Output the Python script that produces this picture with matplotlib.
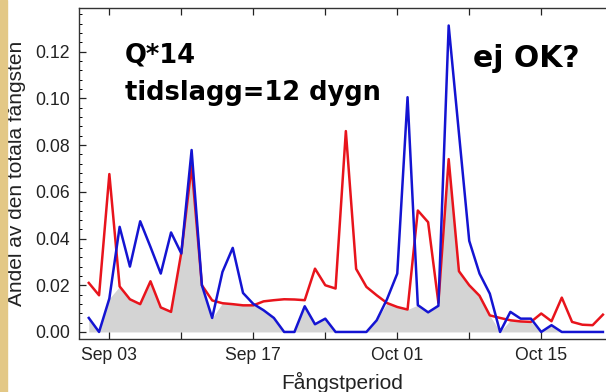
import datetime as dt
import numpy as np
import matplotlib
matplotlib.use('Agg')
import matplotlib.pyplot as plt
import matplotlib.dates as mdates
from matplotlib.ticker import MultipleLocator, FuncFormatter

# data, one value per day from Sep 01 to Oct 21
start = dt.date(2010, 9, 1)
days = [start + dt.timedelta(days=i) for i in range(51)]

red = [0.021, 0.0157, 0.0676, 0.0195, 0.014, 0.0119, 0.0217, 0.0105, 0.0086, 0.034,
       0.071, 0.020, 0.0135, 0.0123, 0.0119, 0.0114, 0.0114, 0.0131, 0.0136, 0.014,
       0.0139, 0.0136, 0.0271, 0.020, 0.0186, 0.086, 0.027, 0.0193, 0.0157, 0.0124,
       0.0107, 0.0096, 0.052, 0.047, 0.0125, 0.074, 0.026, 0.020, 0.0155, 0.0071,
       0.006, 0.005, 0.0045, 0.0043, 0.0079, 0.0046, 0.0147, 0.0043, 0.0031, 0.0029,
       0.0074]
blue = [0.006, 0.0, 0.0143, 0.045, 0.028, 0.0474, 0.0364, 0.025, 0.0426, 0.0336,
        0.0779, 0.020, 0.006, 0.0257, 0.036, 0.0167, 0.012, 0.0093, 0.006, 0.0,
        0.0, 0.011, 0.0033, 0.0057, 0.0, 0.0, 0.0, 0.0, 0.005, 0.014,
        0.025, 0.1005, 0.0115, 0.0084, 0.0112, 0.1312, 0.085, 0.039, 0.025, 0.0164,
        0.0, 0.0086, 0.0057, 0.0057, 0.0, 0.0029, 0.0, 0.0, 0.0, 0.0, 0.0]

tick_labels = ['Sep 03', '', 'Sep 17', '', 'Oct 01', '', 'Oct 15']

plt.rcParams['font.family'] = ['Liberation Sans', 'DejaVu Sans']

fig = plt.figure(figsize=(6.06, 3.92), dpi=100)
fig.patch.set_facecolor('white')
# tan strip on the left edge
fig.patches.append(plt.Rectangle((0, 0), 7 / 606, 1, transform=fig.transFigure,
                                 color='#e3c886', zorder=0))

ax = fig.add_axes([78.5 / 606, 1 - 338.5 / 392, (606 - 78.5) / 606, 330.5 / 392])

x = mdates.date2num(days)
low = np.minimum(red, blue)
ax.fill_between(x, 0, low, color='#d4d4d4', lw=0, zorder=1)
ax.plot(x, red, color='#e8141c', lw=1.8, zorder=3)
ax.plot(x, blue, color='#1414d2', lw=1.8, zorder=4)

x0 = mdates.date2num(dt.date(2010, 8, 31))
ax.set_xlim(x0, x0 + 51.3)
ax.set_ylim(-0.0028, 0.1387)

ticks = [mdates.date2num(dt.date(2010, 9, 3)) + 7 * i for i in range(7)]
ax.set_xticks(ticks)
ax.set_xticklabels(tick_labels)
ax.yaxis.set_major_locator(MultipleLocator(0.02))
ax.yaxis.set_minor_locator(MultipleLocator(0.004))
ax.yaxis.set_major_formatter(FuncFormatter(lambda v, p: '%.2f' % v))

ax.tick_params(axis='both', which='major', direction='in', length=5, width=0.9,
               labelsize=12.7, colors='#222222', pad=6, top=True)
ax.tick_params(axis='y', which='minor', direction='in', length=2.5, width=0.7)
ax.spines['right'].set_visible(False)
for s in ['left', 'bottom', 'top']:
    ax.spines[s].set_linewidth(1.0)
    ax.spines[s].set_color('#333333')

ax.set_xlabel('Fångstperiod', fontsize=15, color='#222222', labelpad=6)
ax.set_ylabel('Andel av den totala fångsten', fontsize=15, color='#222222', labelpad=7)

fig.text(125 / 606, 1 - 62 / 392, 'Q*14', fontsize=18.5, fontweight='bold',
         family='DejaVu Sans', va='baseline')
fig.text(125 / 606, 1 - 100 / 392, 'tidslagg=12 dygn', fontsize=18.5, fontweight='bold',
         family='DejaVu Sans', va='baseline')
fig.text(473 / 606, 1 - 67 / 392, 'ej OK?', fontsize=21.5, fontweight='bold',
         family='DejaVu Sans', va='baseline')

fig.savefig('out.png', dpi=100)
